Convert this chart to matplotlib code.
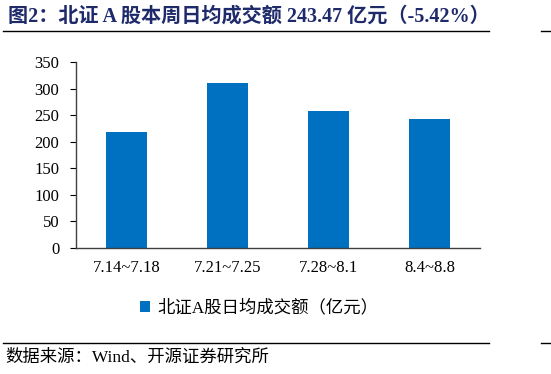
import matplotlib
matplotlib.use('Agg')
import matplotlib.pyplot as plt
from matplotlib.lines import Line2D

weeks = ['7.14~7.18', '7.21~7.25', '7.28~8.1', '8.4~8.8']
turnover = [218, 310.5, 258, 243.47]
series_name = '北证A股日均成交额（亿元）'
title = '图2：北证 A 股本周日均成交额 243.47 亿元（-5.42%）'
source = '数据来源：Wind、开源证券研究所'

fam = ['Liberation Serif', 'Noto Sans CJK SC']
plt.rcParams['font.family'] = fam

fig = plt.figure(figsize=(5.51, 3.74), dpi=100)
ax = fig.add_axes([0.138, 0.337, 0.733, 0.497])
ax.bar(range(len(weeks)), turnover, width=0.4, color='#0070C0', label=series_name)
ax.set_xlim(-0.5, len(weeks) - 0.5)
ax.set_ylim(0, 350)
ax.set_yticks(range(0, 351, 50))
ax.set_xticks(range(len(weeks)))
ax.set_xticklabels(weeks)
ax.tick_params(axis='y', labelsize=12, length=4, direction='out', pad=8)
ax.tick_params(axis='x', labelsize=12, length=0, pad=9)
for s in ('top', 'right'):
    ax.spines[s].set_visible(False)
for s in ('left', 'bottom'):
    ax.spines[s].set_color('#404040')
    ax.spines[s].set_linewidth(1)

fig.legend(loc='center', bbox_to_anchor=(259 / 551, 1 - 308 / 374), frameon=False,
           fontsize=12.5, handlelength=0.6, handleheight=0.6, handletextpad=0.4)

fig.text(8 / 551, 1 - 17 / 374, title, fontsize=14.5, fontweight='bold',
         color='#1F2A6B', va='center', ha='left')
fig.text(5 / 551, 1 - 358 / 374, source, fontsize=12.5, va='center', ha='left')

for y in (31, 343):
    fig.add_artist(Line2D([0.005, 489 / 551], [1 - y / 374] * 2, color='black', lw=1))
    fig.add_artist(Line2D([541 / 551, 1], [1 - y / 374] * 2, color='black', lw=1))

fig.savefig('out.png', dpi=100)
